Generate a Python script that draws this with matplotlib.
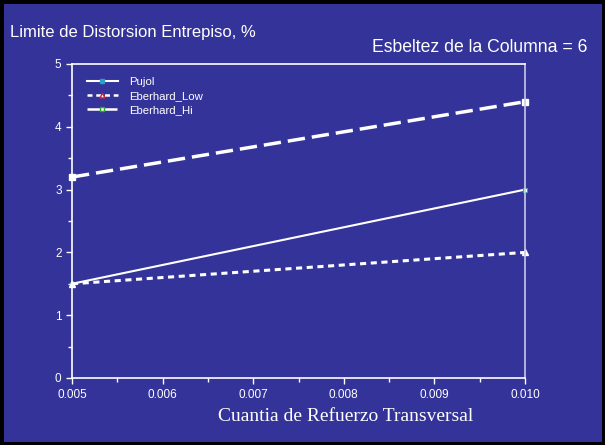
import matplotlib
matplotlib.use("Agg")
import matplotlib.pyplot as plt
from matplotlib.ticker import MultipleLocator
from matplotlib.lines import Line2D

x = [0.005, 0.010]
pujol = [1.5, 3.0]
eberhard_low = [1.5, 2.0]
eberhard_hi = [3.2, 4.4]
xticks = [0.005, 0.006, 0.007, 0.008, 0.009, 0.010]
xticklabels = ["0.005", "0.006", "0.007", "0.008", "0.009", "0.010"]
yticks = [0, 1, 2, 3, 4, 5]

bg = "#333399"
fig = plt.figure(figsize=(6.05, 4.45), dpi=100, facecolor=bg)
fig.patch.set_edgecolor("black")
fig.patch.set_linewidth(5)

ax = fig.add_axes([72/605, 1-378/445, (525-72)/605, (378-64)/445])
ax.set_facecolor(bg)

ax.plot(x, pujol, color="white", lw=1.5, marker="s", ms=3.5,
        mfc="white", mec="#3aa0a0", mew=0.8, label="Pujol", clip_on=False)
ax.plot(x, eberhard_low, color="white", lw=2.2, ls=(0, (2, 1.5)), marker="^", ms=4,
        mfc="white", mec="white", label="Eberhard_Low", clip_on=False)
ax.plot(x, eberhard_hi, color="white", lw=2.5, ls=(0, (5, 2)), marker="s", ms=4.5,
        mfc="white", mec="white", label="Eberhard_Hi", clip_on=False)

ax.set_xlim(0.005, 0.010)
ax.set_ylim(0, 5)
ax.set_xticks(xticks)
ax.set_xticklabels(xticklabels)
ax.set_yticks(yticks)
ax.xaxis.set_minor_locator(MultipleLocator(0.0005))
ax.yaxis.set_minor_locator(MultipleLocator(0.5))

for s in ["left", "bottom", "top"]:
    ax.spines[s].set_color("white")
    ax.spines[s].set_linewidth(1.2)
ax.spines["right"].set_color("#c8c8e8")
ax.spines["right"].set_linewidth(1.2)

ax.tick_params(axis="both", which="both", colors="white", direction="out",
               labelsize=8.5, labelcolor="white")
ax.tick_params(axis="both", which="major", length=4, width=1)
ax.tick_params(axis="both", which="minor", length=3, width=1)
ax.tick_params(axis="x", pad=4)
for lab in ax.get_xticklabels() + ax.get_yticklabels():
    lab.set_family("Liberation Sans")

ax.set_xlabel("Cuantia de Refuerzo Transversal", family="Liberation Serif",
              fontsize=14, color="white")
ax.xaxis.set_label_coords((346-72)/453, -0.095)

leg_handles = [
    Line2D([], [], color="white", lw=1.5, marker="s", ms=3,
           mfc="#2aa0c0", mec="#2aa0c0"),
    Line2D([], [], color="white", lw=1.8, ls=(0, (2, 1.5)), marker="^", ms=3.5,
           mfc="white", mec="#cc2244"),
    Line2D([], [], color="white", lw=1.8, ls=(0, (5, 2)), marker="s", ms=3.5,
           mfc="white", mec="#22aa22"),
]
leg = ax.legend(leg_handles, ["Pujol", "Eberhard_Low", "Eberhard_Hi"],
                loc="upper left", bbox_to_anchor=(0.01, 0.99), frameon=False,
                prop={"family": "Liberation Sans", "size": 8.2}, labelcolor="white",
                handlelength=2.7, handletextpad=1.0, labelspacing=0.32)

fig.text(10/605, 1-32/445, "Limite de Distorsion Entrepiso, %", family="Liberation Sans",
         fontsize=12, color="white", va="center", ha="left")
fig.text(587/605, 1-47/445, "Esbeltez de la Columna = 6", family="Liberation Sans",
         fontsize=12.7, color="white", va="center", ha="right")

fig.savefig("out.png", dpi=100, facecolor=bg, edgecolor="black")
